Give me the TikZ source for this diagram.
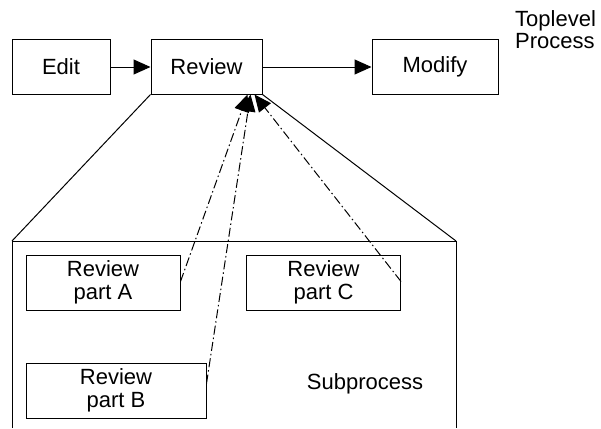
\documentclass[tikz,border=0pt]{standalone}
\usepackage{fontspec}
\setmainfont{Liberation Sans}
\usetikzlibrary{arrows.meta,calc}
\begin{document}
\begin{tikzpicture}[x=1pt,y=-1pt,
  box/.style={draw,line width=1pt,rectangle,inner sep=0pt,align=center,font=\fontsize{22}{23.5}\selectfont},
  lbl/.style={inner sep=0pt,font=\fontsize{22}{22.5}\selectfont},
  arr/.style={line width=1pt,-{Triangle[length=17pt,width=15pt]}},
  dd/.style={line width=1pt,dash pattern=on 9pt off 3pt on 1.5pt off 3pt,-{Triangle[length=17pt,width=15pt]}}]
\useasboundingbox (0,0) rectangle (601,428);
\node[box,minimum width=98pt,minimum height=54pt] (edit) at (61,67) {Edit};
\node[box,minimum width=111pt,minimum height=54pt] (rev) at (206.5,67) {Review};
\node[box,minimum width=126pt,minimum height=54pt] (mod) at (435,67) {Modify};
\node[lbl,anchor=north west,align=left] (top) at (515,10) {Toplevel\\Process};
\coordinate (sl) at (12,241);
\coordinate (sr) at (456,241);
\coordinate (bl) at (12,428);
\coordinate (br) at (456,428);
\draw[line width=1pt] (bl) -- (sl) -- (sr) -- (br);
\draw[line width=1pt] (rev.south west) -- (sl);
\draw[line width=1pt] (rev.south east) -- (sr);
\node[box,minimum width=154pt,minimum height=55pt] (pa) at (103,282.5) {Review\\part A};
\node[box,minimum width=154pt,minimum height=55pt] (pc) at (323.5,282.5) {Review\\part C};
\node[box,minimum width=180pt,minimum height=55pt] (pb) at (116,390.5) {Review\\part B};
\node[lbl] (sub) at (365,384) {Subprocess};
\draw[arr] (edit) -- (rev);
\draw[arr] (rev) -- (mod);
\coordinate (ta) at ($(rev.south)+(41,0)$);
\coordinate (tb) at ($(rev.south)+(44,0)$);
\coordinate (tc) at ($(rev.south)+(48,0)$);
\draw[dd] ($(pa.east)+(0,-1)$) -- (ta);
\draw[dd] ($(pb.east)+(0,-7)$) -- (tb);
\draw[dd] ($(pc.east)+(0,-1)$) -- (tc);
\end{tikzpicture}
\end{document}
